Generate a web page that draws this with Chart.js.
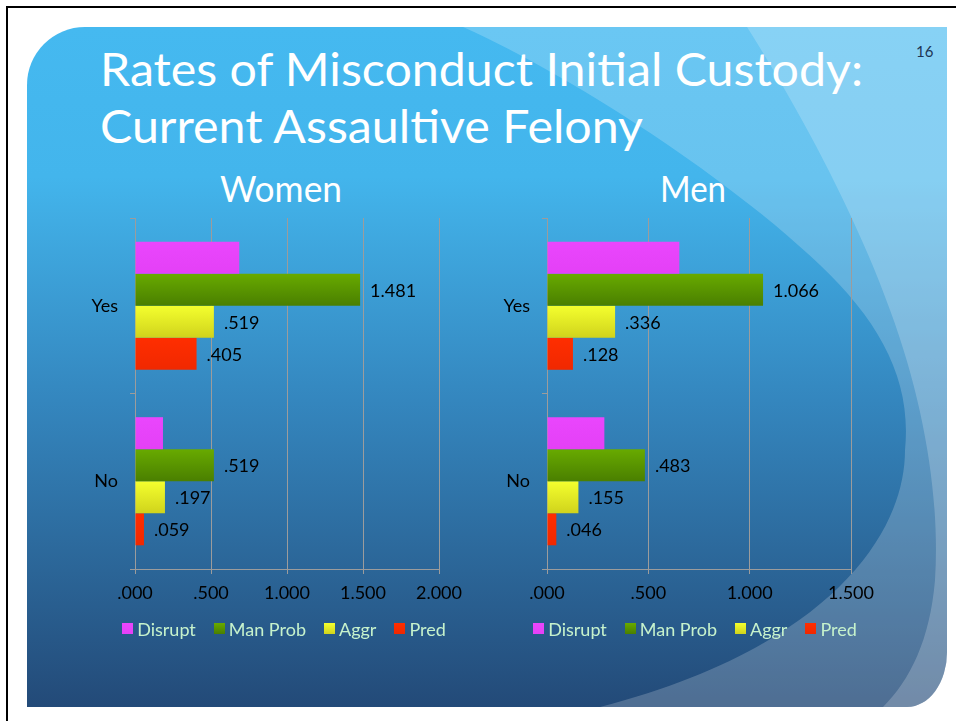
<!DOCTYPE html>
<html><head><meta charset="utf-8">
<script src="https://cdn.jsdelivr.net/npm/chart.js@4/dist/chart.umd.min.js"></script>
<style>
html,body{margin:0;padding:0;background:#fff;width:956px;height:721px;overflow:hidden;font-family:Lato,sans-serif;}
#frame{position:absolute;left:6px;top:6px;width:980px;height:740px;border-top:2px solid #000;border-left:2px solid #000;box-sizing:border-box;}
#bg{position:absolute;left:0;top:0;}
canvas{position:absolute;}
.legend{position:absolute;display:flex;justify-content:center;align-items:center;height:24px;width:500px;font:18px Lato,sans-serif;color:#c6f2cc;white-space:nowrap;}
.legend .it{display:flex;align-items:center;margin-right:18px;}
.legend .it:last-child{margin-right:0;}
.legend .sq{width:11px;height:11px;margin-right:4px;position:relative;top:-1px;}
</style></head>
<body>
<div id="frame"></div>
<svg id="bg" width="956" height="721" xmlns="http://www.w3.org/2000/svg">
<defs>
<linearGradient id="g" x1="0" y1="27" x2="0" y2="707" gradientUnits="userSpaceOnUse">
<stop offset="0" stop-color="#45b9f0"/>
<stop offset="0.22" stop-color="#43b5ec"/>
<stop offset="0.55" stop-color="#3486be"/>
<stop offset="0.8" stop-color="#2b6597"/>
<stop offset="1" stop-color="#234a78"/>
</linearGradient>
<clipPath id="c"><path d="M27,85 A58,58 0 0 1 85,27 L947,27 L947,652 A40,55 0 0 1 907,707 L27,707 Z"/></clipPath>
</defs>
<path d="M27,85 A58,58 0 0 1 85,27 L947,27 L947,652 A40,55 0 0 1 907,707 L27,707 Z" fill="url(#g)"/>
<g clip-path="url(#c)">
<path d="M463,27 C560,70 720,170 820,265 C880,322 912,380 905,450 C905,540 820,650 600,707 L960,707 L960,27 Z" fill="#fff" fill-opacity="0.2"/>
<path d="M747,27 C790,95 850,200 890,310 C925,405 940,500 935,580 C930,640 910,680 883,707 L960,707 L960,27 Z" fill="#fff" fill-opacity="0.2"/>
</g>
<text x="100" y="86" font-family="Lato" font-size="46" fill="#fff" textLength="763" lengthAdjust="spacingAndGlyphs">Rates of Misconduct Initial Custody:</text>
<text x="100" y="143" font-family="Lato" font-size="46" fill="#fff" textLength="543" lengthAdjust="spacingAndGlyphs">Current Assaultive Felony</text>
<text x="220" y="202" font-family="Lato" font-size="36" fill="#fff" textLength="122" lengthAdjust="spacingAndGlyphs">Women</text>
<text x="660" y="202" font-family="Lato" font-size="36" fill="#fff" textLength="66" lengthAdjust="spacingAndGlyphs">Men</text>
<text x="916" y="57" font-family="Lato" font-size="15" fill="#1d3553">16</text>
</svg>
<canvas id="women" width="440" height="420" style="left:35px;top:200px;width:440px;height:420px"></canvas>
<canvas id="men" width="440" height="420" style="left:447px;top:200px;width:440px;height:420px"></canvas>
<div id="legW" class="legend" style="left:34px;top:617px"></div>
<div id="legM" class="legend" style="left:445px;top:617px"></div>
<script>
const categories = ['Yes', 'No'];
const seriesNames = ['Disrupt', 'Man Prob', 'Aggr', 'Pred'];
const labelledSeries = [false, true, true, true];

const womenDisrupt = [0.686, 0.184];
const womenManProb = [1.481, 0.519];
const womenAggr = [0.519, 0.197];
const womenPred = [0.405, 0.059];

const menDisrupt = [0.653, 0.283];
const menManProb = [1.066, 0.483];
const menAggr = [0.336, 0.155];
const menPred = [0.128, 0.046];

const womenTicks = [0, 0.5, 1.0, 1.5, 2.0];
const menTicks = [0, 0.5, 1.0, 1.5];

const seriesTop = ['#ea46fd', '#68aa00', '#f4ff2e', '#ff2e00'];
const seriesBottom = ['#e440f6', '#4a7f00', '#d0d31c', '#f02800'];

function fmt(v){ return Number(v).toFixed(3).replace(/^0/, ''); }

const CAT_PCT = 0.73;
function barFill(i){
  return (c) => {
    const ch = c.chart, ys = ch.scales && ch.scales.y;
    if (c.type !== 'data' || !ys || ys.bottom === undefined) return seriesTop[i];
    const catH = (ys.bottom - ys.top) / categories.length;
    const bh = catH * CAT_PCT / seriesNames.length;
    const cy = ys.getPixelForValue(c.dataIndex);
    const top = cy - bh * seriesNames.length / 2 + i * bh;
    const g = ch.ctx.createLinearGradient(0, top, 0, top + bh);
    g.addColorStop(0, seriesTop[i]);
    g.addColorStop(1, seriesBottom[i]);
    return g;
  };
}

const valueLabels = {
  id: 'valueLabels',
  afterDatasetsDraw(chart){
    const ctx = chart.ctx;
    ctx.save();
    ctx.font = '18px Lato, sans-serif';
    ctx.fillStyle = '#000';
    ctx.textBaseline = 'middle';
    ctx.textAlign = 'left';
    chart.data.datasets.forEach((ds, i) => {
      if (!labelledSeries[i]) return;
      chart.getDatasetMeta(i).data.forEach((el, j) => {
        ctx.fillText(fmt(ds.data[j]), el.x + 10, el.y + 1);
      });
    });
    ctx.restore();
  }
};

const GRID = '#9c9c9c';
function makeChart(id, seriesData, tickVals){
  return new Chart(document.getElementById(id), {
    type: 'bar',
    data: {
      labels: categories,
      datasets: seriesNames.map((n, i) => ({
        label: n, data: seriesData[i], backgroundColor: barFill(i),
        borderWidth: 0, categoryPercentage: CAT_PCT, barPercentage: 1
      }))
    },
    options: {
      indexAxis: 'y', responsive: false, animation: false, devicePixelRatio: 1,
      layout: { padding: { left: 0, right: 36, top: 18, bottom: 11 } },
      plugins: { legend: { display: false }, tooltip: { enabled: false } },
      scales: {
        x: {
          min: tickVals[0], max: tickVals[tickVals.length - 1],
          afterBuildTicks: s => { s.ticks = tickVals.map(v => ({ value: v })); },
          ticks: { callback: v => fmt(v), color: '#000', font: { family: 'Lato', size: 18 }, padding: 8, maxRotation: 0, autoSkip: false },
          grid: { color: GRID, tickLength: 5, lineWidth: 1 },
          border: { color: GRID },
          afterFit: s => { s.height = 40; s.paddingLeft = 0; s.paddingRight = 0; }
        },
        y: {
          ticks: { color: '#000', font: { family: 'Lato', size: 18 }, padding: 12 },
          grid: { drawOnChartArea: false, tickLength: 5, color: GRID, offset: true },
          border: { color: GRID },
          afterFit: s => { s.width = 100; s.paddingTop = 0; s.paddingBottom = 0; }
        }
      }
    },
    plugins: [valueLabels]
  });
}

function makeLegend(id){
  const el = document.getElementById(id);
  seriesNames.forEach((n, i) => {
    const it = document.createElement('div'); it.className = 'it';
    const sq = document.createElement('span'); sq.className = 'sq';
    sq.style.background = 'linear-gradient(' + seriesTop[i] + ',' + seriesBottom[i] + ')';
    const tx = document.createElement('span'); tx.textContent = n;
    it.appendChild(sq); it.appendChild(tx); el.appendChild(it);
  });
}

function build(){
  makeChart('women', [womenDisrupt, womenManProb, womenAggr, womenPred], womenTicks);
  makeChart('men', [menDisrupt, menManProb, menAggr, menPred], menTicks);
  makeLegend('legW');
  makeLegend('legM');
}
(document.fonts && document.fonts.load ? document.fonts.load('18px Lato').catch(()=>{}) : Promise.resolve()).then(build);
</script>
</body></html>
